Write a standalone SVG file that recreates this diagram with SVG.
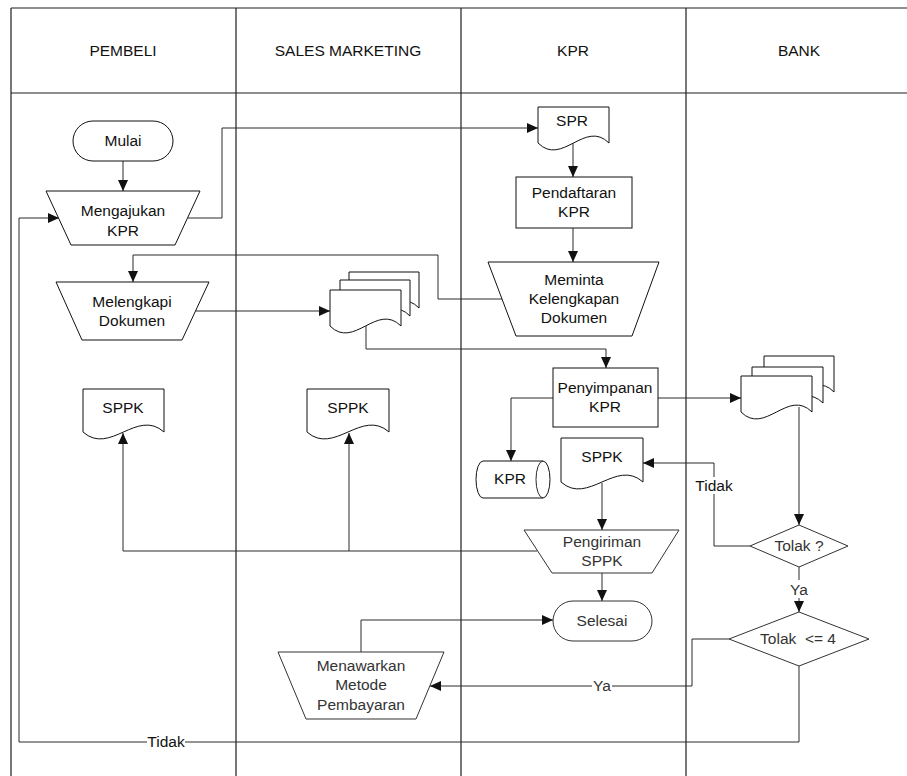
<svg xmlns="http://www.w3.org/2000/svg" width="907" height="776" viewBox="0 0 907 776">
  <style>
    .lane { stroke: #1e1e1e; stroke-width: 1.2; fill: none; }
    .shape { fill: #ffffff; stroke: #111111; stroke-width: 1; }
    .shape2 { fill: #ffffff; stroke: #333333; stroke-width: 1; }
    .conn { fill: none; stroke: #2a2a2a; stroke-width: 1; marker-end: url(#arrow); }
    .line { fill: none; stroke: #2a2a2a; stroke-width: 1; }
    text { font-family: "Liberation Sans", Arial, sans-serif; font-size: 15.5px; fill: #111111; text-anchor: middle; }
    .t2 { fill: #333333; }
    .hdr { font-size: 15.5px; }
    .lbl-bg { fill: #ffffff; stroke: none; }
  </style>
  <defs>
    <marker id="arrow" markerUnits="userSpaceOnUse" markerWidth="11" markerHeight="10" refX="11" refY="5" orient="auto">
      <path d="M0,0 L11,5 L0,10 Z" fill="#111111"/>
    </marker>
  </defs>

  <rect width="907" height="776" fill="#ffffff"/>

  <!-- swimlanes -->
  <g id="lanes">
    <path class="lane" d="M11,8 H907 M11,93 H907 M11,8 V776 M236,8 V776 M461,8 V776 M686,8 V776"/>
    <text class="hdr" x="123" y="56">PEMBELI</text>
    <text class="hdr" x="348" y="56">SALES MARKETING</text>
    <text class="hdr" x="573" y="56">KPR</text>
    <text class="hdr" x="799" y="56">BANK</text>
  </g>

  <!-- connectors -->
  <g id="connectors">
    <path class="conn" d="M123,161 V191"/>
    <path class="conn" d="M188,218 H222 V128 H538"/>
    <path class="conn" d="M573,143 V177"/>
    <path class="conn" d="M573,228 V262"/>
    <path class="conn" d="M502,299 H438 V255 H133 V282"/>
    <path class="conn" d="M196,311 H330"/>
    <path class="conn" d="M366,326 V349 H606 V368"/>
    <path class="conn" d="M658,398 H741"/>
    <path class="conn" d="M553,398 H511 V461"/>
    <path class="conn" d="M799,407 V525"/>
    <path class="conn" d="M750,546 H714 V463 H643"/>
    <path class="conn" d="M799,567 V612"/>
    <path class="conn" d="M602,483 V530"/>
    <path class="conn" d="M602,573 V601"/>
    <path class="conn" d="M537,551 H123 V433"/>
    <path class="conn" d="M349,551 V433"/>
    <path class="conn" d="M729,639 H692 V686 H430"/>
    <path class="conn" d="M361,652 V620 H553"/>
    <path class="conn" d="M799,666 V742 H19 V218 H59"/>

    <!-- connector labels -->
    <rect class="lbl-bg" x="697" y="477" width="35" height="17"/>
    <text x="714" y="491">Tidak</text>
    <rect class="lbl-bg" x="789" y="580" width="20" height="18"/>
    <text class="t2" x="799" y="595">Ya</text>
    <rect class="lbl-bg" x="592" y="677" width="20" height="17"/>
    <text class="t2" x="602" y="691">Ya</text>
    <rect class="lbl-bg" x="147" y="733" width="38" height="17"/>
    <text x="166" y="747">Tidak</text>
  </g>

  <!-- PEMBELI lane -->
  <g id="mulai">
    <rect class="shape" x="73" y="121" width="100" height="40" rx="20" ry="20"/>
    <text x="123" y="146">Mulai</text>
  </g>
  <g id="mengajukan-kpr">
    <path class="shape" d="M46,191 H200 L175,245 H71 Z"/>
    <text x="123" y="216">Mengajukan</text>
    <text x="123" y="236">KPR</text>
  </g>
  <g id="melengkapi-dokumen">
    <path class="shape" d="M56,282 H209 L182,340 H82 Z"/>
    <text x="132" y="307">Melengkapi</text>
    <text x="132" y="326">Dokumen</text>
  </g>
  <g id="sppk-pembeli">
    <path class="shape" d="M83,389 H164 V432 C137,408 110,456 83,432 Z"/>
    <text x="123" y="413">SPPK</text>
  </g>

  <!-- SALES MARKETING lane -->
  <g id="dokumen-sales">
    <path class="shape" d="M349,272 H419 V308 C396,284 372,332 349,308 Z"/>
    <path class="shape" d="M340,280 H410 V316 C387,292 363,340 340,316 Z"/>
    <path class="shape" d="M330,290 H401 V326 C377,302 354,350 330,326 Z"/>
  </g>
  <g id="sppk-sales">
    <path class="shape" d="M307,389 H389 V432 C362,408 334,456 307,432 Z"/>
    <text x="348" y="413">SPPK</text>
  </g>
  <g id="menawarkan-metode">
    <path class="shape2" d="M278,652 H444 L416,719 H306 Z"/>
    <text class="t2" x="361" y="671">Menawarkan</text>
    <text class="t2" x="361" y="690">Metode</text>
    <text class="t2" x="361" y="710">Pembayaran</text>
  </g>

  <!-- KPR lane -->
  <g id="spr">
    <path class="shape" d="M538,107 H609 V143 C585,119 562,167 538,143 Z"/>
    <text x="572" y="126">SPR</text>
  </g>
  <g id="pendaftaran-kpr">
    <rect class="shape" x="516" y="177" width="116" height="51"/>
    <text x="574" y="198">Pendaftaran</text>
    <text x="574" y="217">KPR</text>
  </g>
  <g id="meminta-kelengkapan">
    <path class="shape" d="M488,262 H659 L632,336 H516 Z"/>
    <text x="574" y="285">Meminta</text>
    <text x="574" y="304">Kelengkapan</text>
    <text x="574" y="323">Dokumen</text>
  </g>
  <g id="penyimpanan-kpr">
    <rect class="shape" x="553" y="368" width="105" height="59"/>
    <text x="605" y="393">Penyimpanan</text>
    <text x="605" y="412">KPR</text>
  </g>
  <g id="kpr-storage">
    <path class="shape" d="M483,461 H543 A7,18.5 0 0 1 543,498 H483 A7,18.5 0 0 1 483,461 Z"/>
    <path class="line" d="M543,461 A7,18.5 0 0 0 543,498"/>
    <text x="510" y="484">KPR</text>
  </g>
  <g id="sppk-kpr">
    <path class="shape" d="M561,438 H643 V482 C616,458 588,506 561,482 Z"/>
    <text x="602" y="462">SPPK</text>
  </g>
  <g id="pengiriman-sppk">
    <path class="shape2" d="M524,530 H679 L652,573 H552 Z"/>
    <text class="t2" x="602" y="547">Pengiriman</text>
    <text class="t2" x="602" y="566">SPPK</text>
  </g>
  <g id="selesai">
    <rect class="shape2" x="553" y="601" width="99" height="40" rx="20" ry="20"/>
    <text class="t2" x="602" y="626">Selesai</text>
  </g>

  <!-- BANK lane -->
  <g id="dokumen-bank">
    <path class="shape" d="M764,356 H834 V392 C811,368 787,416 764,392 Z"/>
    <path class="shape" d="M752,367 H823 V403 C799,379 776,427 752,403 Z"/>
    <path class="shape" d="M741,376 H812 V412 C788,388 765,436 741,412 Z"/>
  </g>
  <g id="tolak">
    <path class="shape2" d="M799,525 L848,546 L799,567 L750,546 Z"/>
    <text class="t2" x="799" y="551">Tolak ?</text>
  </g>
  <g id="tolak-4">
    <path class="shape2" d="M799,612 L869,639 L799,666 L729,639 Z"/>
    <text class="t2" x="798" y="644" xml:space="preserve">Tolak  &lt;= 4</text>
  </g>
</svg>
